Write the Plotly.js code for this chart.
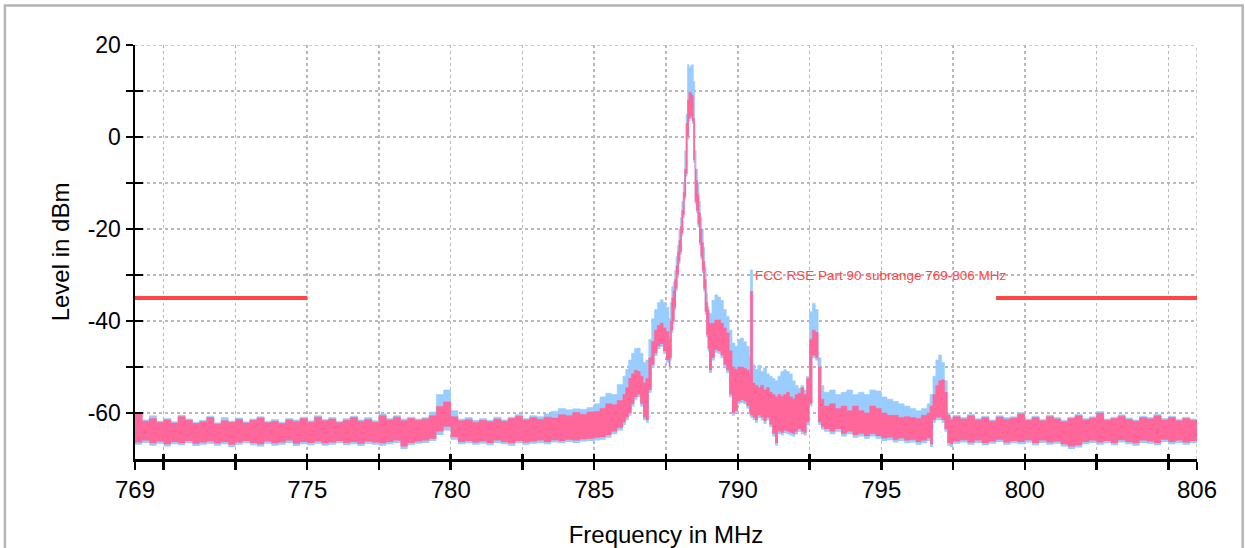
<!DOCTYPE html>
<html>
<head>
<meta charset="utf-8">
<script src="https://cdn.plot.ly/plotly-3.0.1.min.js"></script>
<style>
  html, body { margin: 0; padding: 0; background: #fff; }
  #chart { width: 1245px; height: 548px; }
</style>
</head>
<body>
<div id="chart"></div>
<script>
// Frequency sample points (MHz)
const freqMHz = [
  769.00, 769.25, 769.50, 769.75, 770.00, 770.25, 770.50, 770.75,
  771.00, 771.25, 771.50, 771.75, 772.00, 772.25, 772.50, 772.75,
  773.00, 773.25, 773.50, 773.75, 774.00, 774.25, 774.50, 774.75,
  775.00, 775.25, 775.50, 775.75, 776.00, 776.25, 776.50, 776.75,
  777.00, 777.25, 777.50, 777.75, 778.00, 778.25, 778.50, 778.75,
  779.00, 779.25, 779.50, 779.75, 780.00, 780.25, 780.50, 780.75,
  781.00, 781.25, 781.50, 781.75, 782.00, 782.25, 782.50, 782.75,
  783.00, 783.25, 783.50, 783.75, 784.00, 784.25, 784.50, 784.75,
  785.0, 785.2, 785.4, 785.6, 785.8, 786.0, 786.1, 786.2,
  786.3, 786.4, 786.5, 786.6, 786.7, 786.8, 786.9, 787.0,
  787.1, 787.2, 787.3, 787.4, 787.5, 787.6, 787.65, 787.7,
  787.75, 787.8, 787.85, 787.9, 787.95, 788.0, 788.05, 788.1,
  788.15, 788.2, 788.25, 788.3, 788.35, 788.4, 788.45, 788.5,
  788.55, 788.6, 788.65, 788.7, 788.75, 788.8, 788.85, 788.9,
  788.95, 789.0, 789.1, 789.2, 789.3, 789.4, 789.5, 789.6,
  789.7, 789.8, 789.9, 790.0, 790.1, 790.2, 790.3, 790.4,
  790.44, 790.52, 790.6, 790.7, 790.8, 790.9, 791.0, 791.1,
  791.2, 791.3, 791.4, 791.5, 791.6, 791.7, 791.8, 791.9,
  792.0, 792.1, 792.2, 792.3, 792.4, 792.5, 792.6, 792.7,
  792.8, 792.9, 793.0, 793.2, 793.4, 793.6, 793.8, 794.0,
  794.2, 794.4, 794.6, 794.8, 795.0, 795.2, 795.4, 795.6,
  795.8, 796.0, 796.2, 796.4, 796.6, 796.7, 796.8, 796.9,
  797.0, 797.1, 797.2, 797.3, 797.4, 797.5, 797.75, 798.0,
  798.25, 798.5, 798.75, 799.0, 799.25, 799.5, 799.75, 800.0,
  800.25, 800.5, 800.75, 801.0, 801.25, 801.5, 801.75, 802.0,
  802.25, 802.5, 802.75, 803.0, 803.25, 803.5, 803.75, 804.0,
  804.25, 804.5, 804.75, 805.0, 805.25, 805.5, 805.75, 806.0
];

// Blue trace (max level envelope, dBm)
const blueHigh = [
  -60.0, -61.5, -60.6, -61.8, -61.2, -61.9, -60.5, -61.3,
  -62.0, -61.6, -60.7, -62.1, -61.0, -61.8, -61.1, -61.9,
  -61.3, -60.8, -61.8, -61.4, -62.0, -61.2, -61.5, -60.9,
  -61.7, -60.6, -61.4, -61.0, -61.8, -61.2, -60.7, -61.5,
  -61.0, -61.7, -60.2, -61.2, -60.6, -61.3, -60.9, -61.3,
  -61.0, -59.8, -56.0, -55.0, -59.5, -61.3, -61.0, -61.6,
  -61.2, -61.6, -60.9, -61.5, -60.9, -60.3, -61.2, -60.6,
  -60.8, -60.2, -59.6, -59.0, -59.3, -59.1, -59.2, -58.8,
  -58.0, -56.5, -55.7, -56.0, -53.8, -52.0, -50.5, -48.5,
  -47.0, -46.0, -45.9, -47.0, -49.0, -48.5, -44.0, -39.5,
  -37.5, -36.0, -35.4, -36.0, -37.0, -39.5, -36.0, -32.5,
  -31.5, -29.0, -26.0, -23.5, -20.0, -17.5, -14.0, -10.0,
  -3.0, 5.0, 15.7, 15.0, 15.5, 15.7, 12.0, -3.0,
  -7.0, -10.0, -14.0, -17.5, -20.0, -24.0, -28.2, -34.0,
  -36.9, -38.3, -35.5, -34.3, -34.8, -35.5, -37.5, -39.0,
  -42.0, -44.8, -45.5, -44.0, -43.7, -44.5, -45.5, -47.5,
  -28.9, -49.5, -50.5, -49.6, -51.0, -50.2, -51.5, -52.0,
  -52.5, -53.0, -52.0, -51.0, -50.6, -51.0, -51.5, -53.0,
  -54.0, -54.6, -54.0, -55.0, -52.0, -38.0, -36.2, -37.5,
  -48.0, -54.0, -55.5, -55.0, -56.0, -55.5, -55.0, -56.0,
  -55.5, -56.0, -55.0, -55.2, -56.5, -57.0, -57.5, -58.0,
  -58.5, -59.0, -59.5, -59.0, -58.0, -56.0, -52.0, -48.5,
  -47.4, -49.0, -53.0, -60.0, -61.0, -60.5, -61.0, -60.3,
  -61.2, -60.7, -61.5, -60.6, -61.0, -60.8, -59.9, -61.3,
  -60.7, -61.4, -60.5, -61.0, -61.6, -60.9, -60.3, -61.2,
  -60.8, -59.7, -61.3, -60.9, -60.4, -61.1, -61.5, -60.7,
  -61.0, -60.3, -61.2, -60.7, -61.4, -60.9, -61.3, -61.7
];

// Blue trace (min level envelope, dBm)
const blueLow = [
  -66.9, -66.5, -67.1, -66.7, -67.3, -66.8, -67.0, -66.6,
  -67.2, -66.9, -66.7, -67.1, -66.8, -67.4, -66.9, -66.6,
  -67.0, -67.3, -66.7, -67.1, -66.9, -66.5, -67.2, -66.8,
  -67.0, -66.7, -67.1, -66.9, -66.6, -67.0, -66.8, -67.2,
  -66.7, -66.9, -67.1, -66.8, -66.5, -67.8, -67.0, -66.7,
  -66.5, -66.1, -64.8, -63.8, -65.8, -66.8, -66.6, -66.9,
  -66.7, -67.0, -66.5, -66.8, -67.1, -66.6, -66.9, -66.7,
  -66.5, -66.8, -66.4, -66.6, -66.3, -66.5, -66.2, -66.1,
  -66.0, -65.8, -65.4, -64.6, -63.8, -62.6, -61.6, -60.6,
  -58.6, -57.1, -56.6, -58.6, -61.6, -62.1, -55.6, -50.1,
  -47.6, -46.1, -45.6, -47.1, -49.1, -50.6, -48.6, -42.6,
  -40.6, -37.6, -33.6, -30.6, -27.6, -25.6, -21.6, -17.6,
  -13.6, -8.6, -0.6, 3.4, 3.9, 2.9, -5.6, -14.6,
  -16.6, -19.6, -23.6, -26.6, -29.6, -33.6, -38.6, -43.6,
  -46.6, -51.3, -48.6, -46.9, -47.1, -48.1, -50.1, -51.3,
  -56.6, -60.6, -60.1, -58.1, -57.8, -58.1, -59.1, -60.6,
  -61.1, -61.6, -62.1, -61.1, -61.6, -62.4, -61.6, -63.1,
  -65.1, -67.1, -64.6, -64.9, -64.4, -64.6, -64.9, -65.1,
  -64.6, -64.1, -64.6, -64.9, -62.6, -58.6, -48.1, -48.6,
  -62.6, -63.6, -64.1, -64.6, -64.1, -65.1, -64.6, -65.4,
  -65.1, -65.6, -65.1, -65.6, -66.1, -65.9, -66.4, -66.1,
  -66.6, -66.4, -66.9, -66.6, -66.1, -67.4, -62.1, -61.6,
  -61.6, -62.1, -64.1, -67.1, -67.4, -66.7, -66.4, -66.9,
  -66.5, -67.0, -66.7, -66.3, -66.9, -66.6, -66.8, -66.4,
  -67.0, -66.5, -66.9, -66.7, -67.3, -67.8, -67.5, -66.8,
  -66.5, -66.9, -66.6, -67.0, -66.4, -66.8, -67.1, -66.5,
  -66.7, -67.0, -66.3, -66.8, -66.5, -66.9, -66.6, -66.7
];

// Pink trace (max level envelope, dBm)
const pinkHigh = [
  -60.2, -61.8, -61.2, -62.0, -61.5, -62.2, -60.8, -61.6,
  -62.3, -61.9, -61.0, -62.4, -61.7, -62.0, -61.4, -62.2,
  -61.6, -61.1, -62.1, -61.8, -62.3, -61.5, -61.9, -61.2,
  -62.0, -60.9, -61.7, -61.3, -62.1, -61.6, -61.0, -61.8,
  -61.4, -62.0, -60.6, -61.5, -60.9, -61.7, -61.2, -61.6,
  -61.3, -60.6, -58.6, -57.6, -60.8, -61.7, -61.4, -62.0,
  -61.6, -61.9, -61.3, -61.8, -61.2, -60.7, -61.5, -61.0,
  -61.4, -60.9, -61.1, -60.4, -60.6, -59.9, -60.3, -59.8,
  -59.7, -59.0, -58.0, -58.2, -57.3, -56.0, -54.5, -52.5,
  -51.5, -50.7, -51.0, -52.0, -53.5, -52.5, -48.0, -44.5,
  -42.0, -41.0, -40.5, -41.5, -42.3, -44.0, -40.0, -35.0,
  -33.5, -31.0, -28.0, -25.0, -22.5, -19.5, -16.0, -12.0,
  -7.0, 3.0, 8.0, 9.8, 9.5, 9.0, 4.0, -7.0,
  -9.5, -12.5, -16.5, -20.0, -23.0, -27.0, -31.0, -36.0,
  -37.6, -40.5, -40.5, -39.8, -39.8, -40.5, -41.5, -42.6,
  -46.5, -50.0, -50.5, -50.0, -50.0, -50.3, -50.7, -52.0,
  -33.6, -53.5, -54.0, -54.5, -54.0, -55.0, -54.5, -55.5,
  -56.0, -56.5, -56.0, -56.4, -56.0, -55.5, -56.5, -57.0,
  -56.0, -55.7, -54.5, -56.0, -52.5, -44.0, -42.0, -42.5,
  -50.0, -57.0, -58.5, -58.0, -59.0, -58.5, -59.5, -58.5,
  -59.5, -60.0, -58.5, -59.0, -60.0, -60.5, -60.5, -61.0,
  -60.8, -61.0, -61.2, -60.5, -60.0, -58.5, -56.0, -54.0,
  -53.0, -52.8, -55.5, -60.5, -61.5, -60.8, -61.3, -60.6,
  -61.5, -61.0, -61.8, -60.9, -61.4, -61.1, -60.2, -61.6,
  -61.0, -61.7, -60.8, -61.3, -61.9, -61.2, -60.6, -61.5,
  -61.1, -60.0, -61.6, -61.2, -60.7, -61.4, -61.8, -61.0,
  -61.3, -60.6, -61.5, -61.0, -61.7, -61.2, -61.6, -62.0
];

// Pink trace (min level envelope, dBm)
const pinkLow = [
  -66.4, -66.0, -66.6, -66.2, -66.8, -66.3, -66.5, -66.1,
  -66.7, -66.4, -66.2, -66.6, -66.3, -66.9, -66.4, -66.1,
  -66.5, -66.8, -66.2, -66.6, -66.4, -66.0, -66.7, -66.3,
  -66.5, -66.2, -66.6, -66.4, -66.1, -66.5, -66.3, -66.7,
  -66.2, -66.4, -66.6, -66.3, -66.0, -67.3, -66.5, -66.2,
  -66.0, -65.6, -64.0, -63.0, -65.2, -66.3, -66.1, -66.4,
  -66.2, -66.5, -66.0, -66.3, -66.6, -66.1, -66.4, -66.2,
  -66.0, -66.3, -65.9, -66.1, -65.8, -66.0, -65.7, -65.6,
  -65.4, -65.2, -64.8, -64.0, -63.2, -62.0, -61.0, -60.0,
  -58.0, -56.5, -56.0, -58.0, -61.0, -61.5, -55.0, -49.5,
  -47.0, -45.5, -45.0, -46.5, -48.5, -50.0, -48.0, -42.0,
  -40.0, -37.0, -33.0, -30.0, -27.0, -25.0, -21.0, -17.0,
  -13.0, -8.0, 0.0, 4.0, 4.5, 3.5, -5.0, -14.0,
  -16.0, -19.0, -23.0, -26.0, -29.0, -33.0, -38.0, -43.0,
  -46.0, -50.7, -48.0, -46.3, -46.5, -47.5, -49.5, -50.7,
  -56.0, -60.0, -59.5, -57.5, -57.2, -57.5, -58.5, -60.0,
  -60.5, -61.0, -61.5, -60.5, -61.0, -61.8, -61.0, -62.5,
  -64.5, -66.5, -64.0, -64.3, -63.8, -64.0, -64.3, -64.5,
  -64.0, -63.5, -64.0, -64.3, -62.0, -58.0, -47.5, -48.0,
  -62.0, -63.0, -63.5, -64.0, -63.5, -64.5, -64.0, -64.8,
  -64.5, -65.0, -64.5, -65.0, -65.5, -65.3, -65.8, -65.5,
  -66.0, -65.8, -66.3, -66.0, -65.5, -66.8, -61.5, -61.0,
  -61.0, -61.5, -63.5, -66.5, -66.8, -66.2, -65.9, -66.4,
  -66.0, -66.5, -66.2, -65.8, -66.4, -66.1, -66.3, -65.9,
  -66.5, -66.0, -66.4, -66.2, -66.8, -67.3, -67.0, -66.3,
  -66.0, -66.4, -66.1, -66.5, -65.9, -66.3, -66.6, -66.0,
  -66.2, -66.5, -65.8, -66.3, -66.0, -66.4, -66.1, -66.2
];

// Limit line (FCC RSE Part 90), dBm
const limitLeftFreq = [769, 775];
const limitLeftLevel = [-35, -35];
const limitRightFreq = [799, 806];
const limitRightLevel = [-35, -35];
const limitLabel = 'FCC RSE Part 90 subrange 769-806 MHz';
const limitLabelFreq = 790.52;
const limitLabelLevel = -30.2;

// Axis ticks
const xTickVals = [769, 770, 772.5, 775, 777.5, 780, 782.5, 785, 787.5, 790, 792.5, 795, 797.5, 800, 802.5, 805, 806];
const xTickText = ['769', '', '', '775', '', '780', '', '785', '', '790', '', '795', '', '800', '', '', '806'];
const yTickVals = [20, 10, 0, -10, -20, -30, -40, -50, -60];
const yTickText = ['20', '', '0', '', '-20', '', '-40', '', '-60'];

const BLUE = '#99ccff';
const PINK = '#ff6699';
const RED = '#ff4646';
const GRID = '#b9b9b9';

function band(lo, hi, color) {
  return [
    { x: freqMHz, y: lo, type: 'scatter', mode: 'lines', line: { width: 0, color: color, shape: 'hv' }, hoverinfo: 'skip' },
    { x: freqMHz, y: hi, type: 'scatter', mode: 'lines', line: { width: 0.6, color: color, shape: 'hv' },
      fill: 'tonexty', fillcolor: color, hoverinfo: 'skip' }
  ];
}

const traces = [
  ...band(blueLow, blueHigh, BLUE),
  ...band(pinkLow, pinkHigh, PINK),
  { x: limitLeftFreq, y: limitLeftLevel, type: 'scatter', mode: 'lines', line: { color: RED, width: 4 } },
  { x: limitRightFreq, y: limitRightLevel, type: 'scatter', mode: 'lines', line: { color: RED, width: 4 } },
  { x: [], y: [], type: 'scatter', mode: 'lines', xaxis: 'x2', yaxis: 'y2', hoverinfo: 'skip' }
];

const FONT = 'Liberation Sans, Arial, Helvetica, sans-serif';

const layout = {
  width: 1245, height: 548,
  margin: { l: 135, r: 48, t: 45, b: 89 },
  paper_bgcolor: '#ffffff', plot_bgcolor: '#ffffff',
  showlegend: false,
  font: { family: FONT, color: '#000000' },
  xaxis: {
    range: [769, 806], tickmode: 'array', tickvals: xTickVals, ticktext: xTickText,
    ticks: 'outside', ticklen: 8, tickwidth: 2.5, tickcolor: '#000',
    showline: true, linecolor: '#000', linewidth: 2.5,
    showgrid: true, gridcolor: GRID, griddash: 'dot', gridwidth: 1.5,
    zeroline: false, tickfont: { size: 24, family: FONT },
    title: { text: 'Frequency in MHz', font: { size: 24, family: FONT }, standoff: 27 },
    fixedrange: true
  },
  yaxis: {
    range: [-70, 20], tickmode: 'array', tickvals: yTickVals, ticktext: yTickText,
    ticks: 'outside', ticklen: 7, tickwidth: 2.5, tickcolor: '#000',
    showline: true, linecolor: '#000', linewidth: 2.5,
    showgrid: true, gridcolor: GRID, griddash: 'dot', gridwidth: 1.5,
    zeroline: false, tickfont: { size: 23, family: FONT },
    title: { text: 'Level in dBm', font: { size: 24, family: FONT }, standoff: 12 },
    fixedrange: true
  },
  xaxis2: {
    overlaying: 'x', anchor: 'y2', side: 'bottom', range: [769, 806],
    tickmode: 'array', tickvals: xTickVals, ticks: 'inside', ticklen: 5, tickwidth: 2.5, tickcolor: '#000',
    showticklabels: false, showgrid: false, showline: false, zeroline: false, fixedrange: true
  },
  yaxis2: {
    overlaying: 'y', anchor: 'x2', side: 'left', range: [-70, 20],
    tickmode: 'array', tickvals: yTickVals, ticks: 'inside', ticklen: 8, tickwidth: 2.5, tickcolor: '#000',
    showticklabels: false, showgrid: false, showline: false, zeroline: false, fixedrange: true
  },
  shapes: [
    { type: 'line', xref: 'x', yref: 'y', x0: 769, x1: 806, y0: 20, y1: 20, layer: 'below',
      line: { color: GRID, width: 1.5, dash: 'dot' } },
    { type: 'line', xref: 'x', yref: 'y', x0: 806, x1: 806, y0: -70, y1: 20, layer: 'below',
      line: { color: GRID, width: 1.5, dash: 'dot' } },
    { type: 'rect', xref: 'paper', yref: 'paper', x0: -0.1225, x1: 1.0430, y0: -0.25, y1: 1.0955,
      line: { color: '#b4b4b4', width: 2.5 }, fillcolor: 'rgba(0,0,0,0)', layer: 'below' }
  ],
  annotations: [
    { x: limitLabelFreq, y: limitLabelLevel, xref: 'x', yref: 'y', text: limitLabel, showarrow: false,
      xanchor: 'left', yanchor: 'middle', font: { size: 13.5, color: RED, family: FONT } }
  ]
};

Plotly.newPlot('chart', traces, layout, { displayModeBar: false, staticPlot: true });
</script>
</body>
</html>
